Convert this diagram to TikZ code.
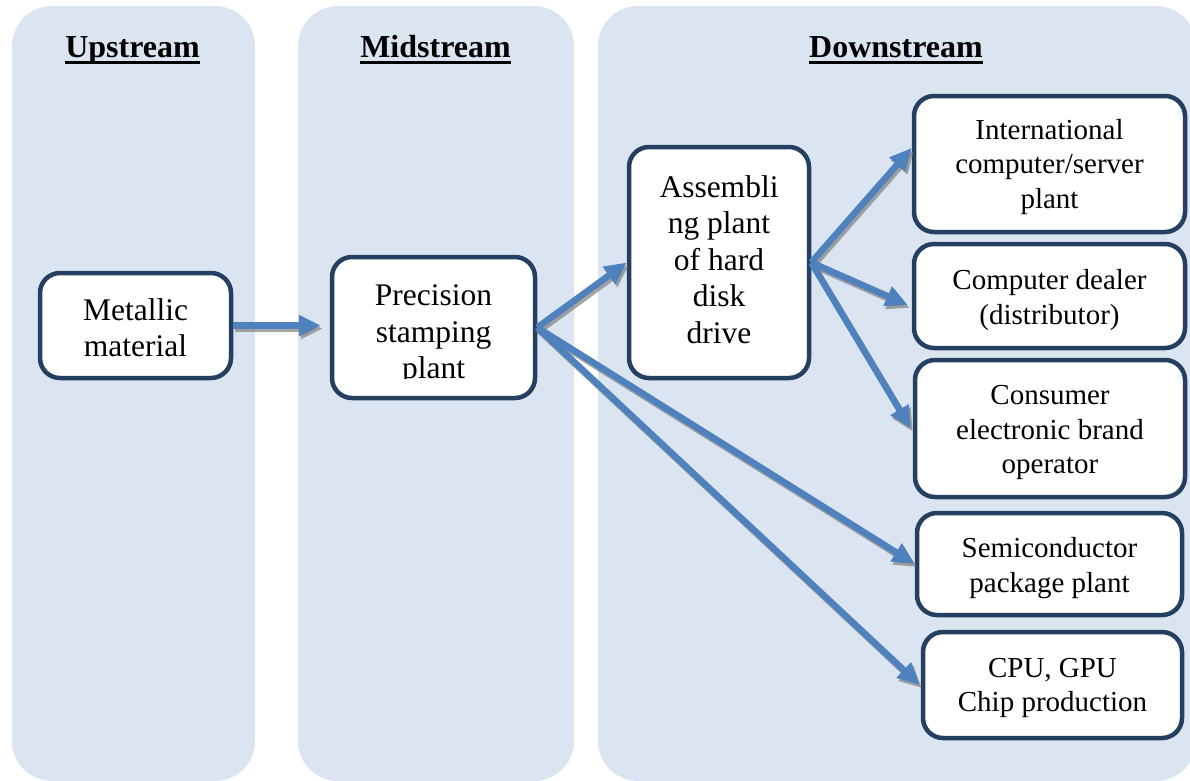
\documentclass[tikz,border=0pt]{standalone}
\usepackage{fontspec}
\setmainfont{Liberation Serif}
\usetikzlibrary{arrows.meta}
\definecolor{panelblue}{HTML}{DBE5F1}
\definecolor{boxline}{HTML}{243F60}
\definecolor{flowblue}{HTML}{4F81BD}
\tikzset{
  panel/.style={fill=panelblue, rounded corners=40pt},
  stage/.style={font=\fontsize{32}{38}\selectfont\bfseries, inner sep=0pt, anchor=base},
  stageline/.style={line width=3pt},
  plantbox/.style={draw=boxline, line width=4.5pt, fill=white, rounded corners=20pt, inner sep=0pt},
  bigtext/.style={font=\fontsize{31.5}{36.5}\selectfont, align=center, inner sep=0pt},
  smalltext/.style={font=\fontsize{29}{34.5}\selectfont, align=center, inner sep=0pt},
  flow/.style={draw=flowblue, line width=6.5pt, -{Triangle[length=22pt,width=20pt]}},
  flowshadow/.style={draw=black!50, opacity=0.7, line width=6.5pt, -{Triangle[length=22pt,width=20pt]}, transform canvas={shift={(2pt,-3pt)}}},
}
% an arrow with its drop shadow
\newcommand\flowarrow[3][]{%
  \draw[flowshadow,#1] #2 -- #3;
  \draw[flow,#1] #2 -- #3;}
\begin{document}
\begin{tikzpicture}[x=1pt,y=-1pt]
\useasboundingbox (0,0) rectangle (1190,780);

% stage panels
\begin{scope}
\clip (0,0) rectangle (1190,780);
\fill[panel] (12,6) rectangle (255,781);
\fill[panel] (298,6) rectangle (574,781);
\fill[panel] (598,6) rectangle (1196,781);
\end{scope}

% stage titles
\node[stage] (hup) at (132.5,57) {Upstream};
\node[stage] (hmid) at (435.5,57) {Midstream};
\node[stage] (hdown) at (896,57) {Downstream};
\foreach \h in {hup,hmid,hdown}
  \draw[stageline] ([yshift=-5.5pt]\h.base west) -- ([yshift=-5.5pt]\h.base east);

% plant boxes
\node[plantbox, minimum width=191pt, minimum height=105pt] (meta) at (135.5,325.5) {};
\node[plantbox, minimum width=203pt, minimum height=141pt] (prec) at (433.5,327.5) {};
\node[plantbox, minimum width=180pt, minimum height=231pt] (asm) at (719,262.5) {};
\node[plantbox, minimum width=271pt, minimum height=136pt] (intl) at (1049.5,164) {};
\node[plantbox, minimum width=271pt, minimum height=104pt] (deal) at (1049.5,296) {};
\node[plantbox, minimum width=270pt, minimum height=137pt] (cons) at (1050,428.5) {};
\node[plantbox, minimum width=265pt, minimum height=102pt] (semi) at (1049.5,564) {};
\node[plantbox, minimum width=259pt, minimum height=106pt] (cpu) at (1052.5,685) {};

% plant names
\node[bigtext] (metatext) at ([yshift=-2pt]meta.center) {Metallic\\material};
\begin{scope}
\clip (334,259) rectangle (533,378);
\node[bigtext] (prectext) at (433.5,335) {Precision\\stamping\\plant};
\end{scope}
\node[bigtext] (asmtext) at ([yshift=3pt]asm.center) {Assembli\\ng plant\\of hard\\disk\\drive};
\node[smalltext] (intltext) at ([yshift=-3pt]intl.center) {International\\computer/server\\plant};
\node[smalltext] (dealtext) at ([yshift=-4pt]deal.center) {Computer dealer\\(distributor)};
\node[smalltext] (constext) at ([yshift=-4pt]cons.center) {Consumer\\electronic brand\\operator};
\node[smalltext] (semitext) at ([yshift=-4pt]semi.center) {Semiconductor\\package plant};
\node[smalltext] (cputext) at ([yshift=-3pt]cpu.center) {CPU, GPU\\Chip production};

% flows
\flowarrow[shorten >=9pt]{(meta.east)}{(prec.west |- meta.east)}
\flowarrow{(prec.east)}{(asm.west)}
\flowarrow{(prec.east)}{(semi.west)}
\flowarrow{(prec.east)}{([xshift=-1pt]cpu.west)}
\flowarrow{(asm.east)}{([yshift=16pt]intl.west)}
\flowarrow{(asm.east)}{([xshift=-4pt,yshift=-9pt]deal.west)}
\flowarrow{(asm.east)}{([xshift=-2pt]cons.west)}
\end{tikzpicture}
\end{document}
